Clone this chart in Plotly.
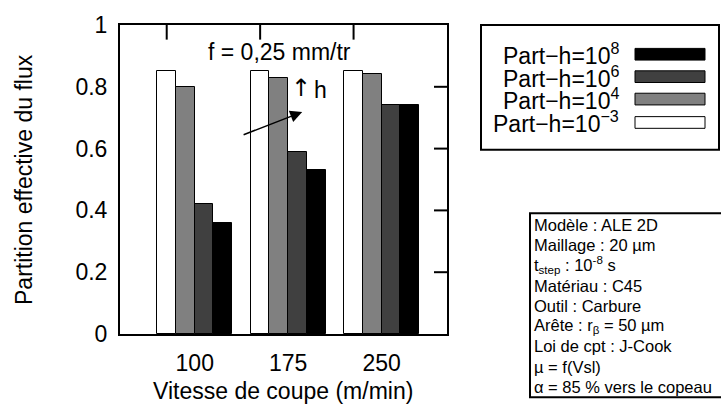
import plotly.graph_objects as go

# ---- data ----
speeds = ["100", "175", "250"]
series_names = ["Part−h=10<sup>−3</sup>", "Part−h=10<sup>4</sup>",
                "Part−h=10<sup>6</sup>", "Part−h=10<sup>8</sup>"]
part_m3 = [0.85, 0.85, 0.85]
part_4 = [0.80, 0.83, 0.84]
part_6 = [0.42, 0.59, 0.74]
part_8 = [0.36, 0.53, 0.74]
series_values = [part_m3, part_4, part_6, part_8]
series_colors = ["#ffffff", "#808080", "#404040", "#000000"]
y_ticks = [0, 0.2, 0.4, 0.6, 0.8, 1]
info_lines = [
    "Modèle : ALE 2D",
    "Maillage : 20 µm",
    "t<sub>step</sub> : 10<sup>-8</sup> s",
    "Matériau : C45",
    "Outil : Carbure",
    "Arête : r<sub>β</sub> = 50 µm",
    "Loi de cpt : J-Cook",
    "µ = f(Vsl)",
    "α = 85 % vers le copeau",
]

W, H = 721, 407
L, R, T, B = 120, 447, 17, 334
FONT = "Liberation Sans, Arial, sans-serif"
FS = 23


def px(x):
    return (x - L) / (R - L)


def py(y):
    return (B - y) / (B - T)


pos = [i + 1 for i in range(len(speeds))]
bw = 0.2

fig = go.Figure()
for k, (name, vals, col) in enumerate(zip(series_names, series_values, series_colors)):
    fig.add_trace(go.Bar(
        x=pos, y=vals, name=name, width=bw, offset=-bw / 2 + k * bw,
        marker=dict(color=col, line=dict(color="black", width=1)),
        showlegend=False,
    ))

annotations = []
shapes = []

# inward ticks on top (at group positions) and on the right (at y ticks)
for p in pos:
    shapes.append(dict(type="line", xref="x", yref="paper", x0=p, x1=p,
                       y0=1, y1=1 - 15 / (B - T), line=dict(color="black", width=2)))
for v in y_ticks[1:-1]:
    shapes.append(dict(type="line", xref="paper", yref="y", x0=1, x1=1 - 13 / (R - L),
                       y0=v, y1=v, line=dict(color="black", width=2)))

# titles
annotations.append(dict(text="Partition effective du flux", x=px(24), y=py(176),
                        xref="paper", yref="paper", showarrow=False, textangle=-90,
                        xanchor="center", yanchor="middle", font=dict(size=FS)))
annotations.append(dict(text="Vitesse de coupe (m/min)", x=px(283), y=py(392),
                        xref="paper", yref="paper", showarrow=False,
                        xanchor="center", yanchor="middle", font=dict(size=FS)))
annotations.append(dict(text="f = 0,25 mm/tr", x=px(279), y=py(45),
                        xref="paper", yref="paper", showarrow=False,
                        xanchor="center", yanchor="middle", font=dict(size=FS)))
annotations.append(dict(text="↑", x=px(301), y=py(82),
                        xref="paper", yref="paper", showarrow=False,
                        xanchor="center", yanchor="middle",
                        font=dict(size=24, family="DejaVu Sans")))
annotations.append(dict(text="h", x=px(312), y=py(84),
                        xref="paper", yref="paper", showarrow=False,
                        xanchor="left", yanchor="middle", font=dict(size=FS)))
annotations.append(dict(text="", x=2.45, y=0.7186, ax=1.807, ay=0.643,
                        xref="x", yref="y", axref="x", ayref="y",
                        showarrow=True, arrowhead=2, arrowsize=1.6, arrowwidth=1.5,
                        arrowcolor="black"))

# legend box
shapes.append(dict(type="rect", xref="paper", yref="paper",
                   x0=px(481), x1=px(719), y0=py(145), y1=py(17),
                   line=dict(color="black", width=2), fillcolor="white", layer="above"))
leg_rows = [47, 70, 93, 117]
leg_order = [3, 2, 1, 0]
for row_y, k in zip(leg_rows, leg_order):
    annotations.append(dict(text=series_names[k], x=px(621), y=py(row_y),
                            xref="paper", yref="paper", showarrow=False,
                            xanchor="right", yanchor="middle", font=dict(size=FS)))
    shapes.append(dict(type="rect", xref="paper", yref="paper",
                       x0=px(635), x1=px(705), y0=py(row_y + 6), y1=py(row_y - 6),
                       line=dict(color="black", width=1), fillcolor=series_colors[k],
                       layer="above"))

# info box
shapes.append(dict(type="rect", xref="paper", yref="paper",
                   x0=px(530), x1=px(724), y0=py(399), y1=py(210),
                   line=dict(color="black", width=2), fillcolor="white", layer="above"))
for i, line in enumerate(info_lines):
    annotations.append(dict(text=line, x=px(532), y=py(222 + i * 20.8),
                            xref="paper", yref="paper", showarrow=False,
                            xanchor="left", yanchor="middle", font=dict(size=16.5)))

fig.update_layout(
    width=W, height=H,
    margin=dict(l=L, r=W - R, t=T, b=H - B, pad=0),
    plot_bgcolor="white", paper_bgcolor="white",
    font=dict(family=FONT, size=FS, color="black"),
    barmode="overlay", bargap=0,
    showlegend=False,
    xaxis=dict(range=[0.5, 4.0], tickvals=[p + 0.3 for p in pos], ticktext=speeds,
               ticks="", showgrid=False, zeroline=False, showline=True,
               linecolor="black", linewidth=2, mirror=True, ticklabelstandoff=7),
    yaxis=dict(range=[0, 1], tickvals=y_ticks, ticks="", showgrid=False,
               zeroline=False, showline=True, linecolor="black", linewidth=2,
               mirror=True, ticklabelstandoff=6),
    annotations=annotations,
    shapes=shapes,
)

fig.write_html("out.html")
